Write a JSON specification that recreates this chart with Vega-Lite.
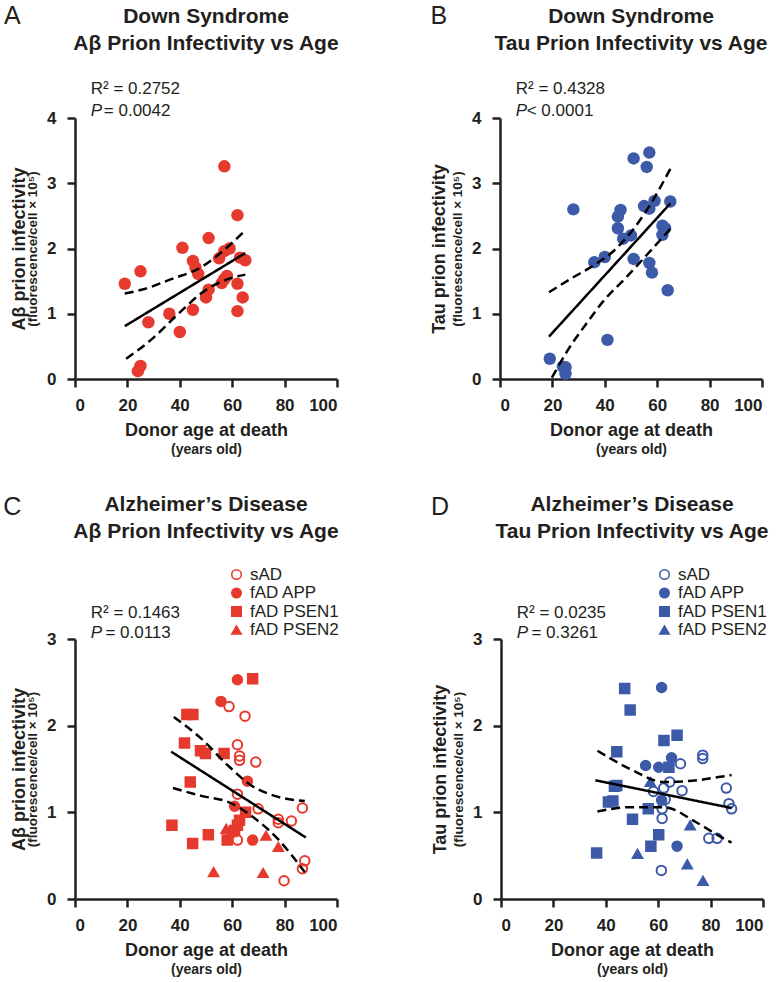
{
  "$schema": "https://vega.github.io/schema/vega-lite/v6.json",
  "padding": {"left": 3, "top": 3, "right": 0, "bottom": 3},
  "background": "white",
  "config": {
    "font": "Liberation Sans",
    "view": {"stroke": null},
    "axis": {
      "grid": false,
      "domainColor": "#231f20", "domainWidth": 2.5,
      "tickColor": "#231f20", "tickWidth": 2.5, "tickSize": 8,
      "labelFont": "Liberation Sans", "labelFontWeight": "bold", "labelFontSize": 17, "labelColor": "#231f20",
      "titleFont": "Liberation Sans", "titleColor": "#231f20", "titleFontWeight": "bold"
    },
    "title": {"font": "Liberation Sans", "fontSize": 21, "fontWeight": "bold", "color": "#231f20", "anchor": "middle", "frame": "group", "lineHeight": 27}
  },
  "datasets": {
    "a": [
      {"age":19,"val":1.46},{"age":25,"val":1.65},{"age":28,"val":0.87},{"age":24,"val":0.12},{"age":25,"val":0.2},
      {"age":36,"val":1.0},{"age":40,"val":0.72},{"age":41,"val":2.01},{"age":45,"val":1.06},{"age":45,"val":1.81},
      {"age":46,"val":1.71},{"age":47,"val":1.61},{"age":51,"val":2.16},{"age":50,"val":1.25},{"age":51,"val":1.37},
      {"age":55,"val":1.85},{"age":57,"val":3.26},{"age":57,"val":1.96},{"age":59,"val":2.0},{"age":56,"val":1.47},
      {"age":57,"val":1.53},{"age":58,"val":1.58},{"age":62,"val":2.51},{"age":63,"val":1.86},{"age":65,"val":1.82},
      {"age":62,"val":1.46},{"age":64,"val":1.25},{"age":62,"val":1.04}
    ],
    "b": [
      {"age":28,"val":2.6},{"age":51,"val":3.38},{"age":57,"val":3.47},{"age":56,"val":3.25},{"age":46,"val":2.59},
      {"age":45,"val":2.49},{"age":45,"val":2.31},{"age":47,"val":2.15},{"age":50,"val":2.2},{"age":36,"val":1.79},
      {"age":40,"val":1.87},{"age":51,"val":1.84},{"age":55,"val":2.65},{"age":57,"val":2.61},{"age":59,"val":2.73},
      {"age":65,"val":2.72},{"age":57,"val":1.78},{"age":58,"val":1.63},{"age":62,"val":2.35},{"age":63,"val":2.31},
      {"age":62,"val":2.21},{"age":64,"val":1.36},{"age":19,"val":0.31},{"age":24,"val":0.19},{"age":25,"val":0.18},
      {"age":25,"val":0.08},{"age":41,"val":0.6}
    ],
    "c": [
      {"age":62.0,"val":2.53,"group":"fAD APP"},{"age":55.7,"val":2.28,"group":"fAD APP"},{"age":65.8,"val":1.36,"group":"fAD APP"},
      {"age":60.9,"val":1.07,"group":"fAD APP"},{"age":67.8,"val":0.68,"group":"fAD APP"},
      {"age":67.8,"val":2.54,"group":"fAD PSEN1"},{"age":42.7,"val":2.13,"group":"fAD PSEN1"},{"age":45,"val":2.13,"group":"fAD PSEN1"},
      {"age":41.8,"val":1.8,"group":"fAD PSEN1"},{"age":47.9,"val":1.71,"group":"fAD PSEN1"},{"age":49.8,"val":1.68,"group":"fAD PSEN1"},
      {"age":56.9,"val":1.68,"group":"fAD PSEN1"},{"age":44,"val":1.35,"group":"fAD PSEN1"},{"age":37,"val":0.85,"group":"fAD PSEN1"},
      {"age":44.9,"val":0.64,"group":"fAD PSEN1"},{"age":50.9,"val":0.74,"group":"fAD PSEN1"},{"age":65.1,"val":1.0,"group":"fAD PSEN1"},
      {"age":62.8,"val":0.91,"group":"fAD PSEN1"},{"age":62,"val":0.85,"group":"fAD PSEN1"},{"age":58.1,"val":0.68,"group":"fAD PSEN1"},
      {"age":60.9,"val":0.79,"group":"fAD PSEN1"},
      {"age":52.9,"val":0.31,"group":"fAD PSEN2"},{"age":71.8,"val":0.3,"group":"fAD PSEN2"},{"age":72.9,"val":0.73,"group":"fAD PSEN2"},
      {"age":77.6,"val":0.6,"group":"fAD PSEN2"},{"age":57.7,"val":0.81,"group":"fAD PSEN2"},{"age":59.7,"val":0.77,"group":"fAD PSEN2"},
      {"age":58.8,"val":2.22,"group":"sAD"},{"age":64.9,"val":2.11,"group":"sAD"},{"age":62,"val":1.78,"group":"sAD"},
      {"age":62.8,"val":1.65,"group":"sAD"},{"age":62.8,"val":1.6,"group":"sAD"},{"age":69,"val":1.58,"group":"sAD"},
      {"age":62,"val":1.21,"group":"sAD"},{"age":69.9,"val":1.04,"group":"sAD"},{"age":86.8,"val":1.05,"group":"sAD"},
      {"age":77.6,"val":0.92,"group":"sAD"},{"age":77.6,"val":0.88,"group":"sAD"},{"age":82.6,"val":0.9,"group":"sAD"},
      {"age":62,"val":0.68,"group":"sAD"},{"age":87.7,"val":0.44,"group":"sAD"},{"age":86.8,"val":0.35,"group":"sAD"},
      {"age":79.8,"val":0.21,"group":"sAD"}
    ],
    "d": [
      {"age":47.2,"val":2.43,"group":"fAD PSEN1"},{"age":49.3,"val":2.18,"group":"fAD PSEN1"},{"age":67.2,"val":1.89,"group":"fAD PSEN1"},
      {"age":62.2,"val":1.83,"group":"fAD PSEN1"},{"age":44.2,"val":1.7,"group":"fAD PSEN1"},{"age":64.1,"val":1.52,"group":"fAD PSEN1"},
      {"age":43.3,"val":1.3,"group":"fAD PSEN1"},{"age":44.2,"val":1.31,"group":"fAD PSEN1"},{"age":41,"val":1.12,"group":"fAD PSEN1"},
      {"age":42.7,"val":1.13,"group":"fAD PSEN1"},{"age":56.2,"val":1.04,"group":"fAD PSEN1"},{"age":50.2,"val":0.92,"group":"fAD PSEN1"},
      {"age":60.2,"val":0.74,"group":"fAD PSEN1"},{"age":57.2,"val":0.61,"group":"fAD PSEN1"},{"age":36.5,"val":0.53,"group":"fAD PSEN1"},
      {"age":61.3,"val":2.44,"group":"fAD APP"},{"age":65.1,"val":1.63,"group":"fAD APP"},{"age":55.2,"val":1.54,"group":"fAD APP"},
      {"age":60.2,"val":1.52,"group":"fAD APP"},{"age":61.3,"val":1.14,"group":"fAD APP"},{"age":67.2,"val":0.61,"group":"fAD APP"},
      {"age":57,"val":1.35,"group":"fAD PSEN2"},{"age":72.2,"val":0.85,"group":"fAD PSEN2"},{"age":52.1,"val":0.52,"group":"fAD PSEN2"},
      {"age":71.1,"val":0.4,"group":"fAD PSEN2"},{"age":77.1,"val":0.21,"group":"fAD PSEN2"},
      {"age":77,"val":1.66,"group":"sAD"},{"age":77,"val":1.62,"group":"sAD"},{"age":68.5,"val":1.56,"group":"sAD"},
      {"age":64.4,"val":1.35,"group":"sAD"},{"age":62.1,"val":1.28,"group":"sAD"},{"age":69.1,"val":1.25,"group":"sAD"},
      {"age":58.2,"val":1.24,"group":"sAD"},{"age":62.7,"val":1.15,"group":"sAD"},{"age":61.5,"val":1.04,"group":"sAD"},
      {"age":61.5,"val":0.93,"group":"sAD"},{"age":79.3,"val":0.7,"group":"sAD"},{"age":82.5,"val":0.7,"group":"sAD"},
      {"age":61.2,"val":0.33,"group":"sAD"},{"age":86,"val":1.28,"group":"sAD"},{"age":87,"val":1.1,"group":"sAD"},
      {"age":88,"val":1.04,"group":"sAD"}
    ],
    "fits": [
      {"panel":"A","curve":"fit","age":19,"val":0.81},{"panel":"A","curve":"fit","age":65,"val":1.93},
      {"panel":"A","curve":"upper","age":19,"val":1.31},{"panel":"A","curve":"upper","age":26.5,"val":1.38},{"panel":"A","curve":"upper","age":36.7,"val":1.53},
      {"panel":"A","curve":"upper","age":48,"val":1.71},{"panel":"A","curve":"upper","age":55.8,"val":1.94},{"panel":"A","curve":"upper","age":65,"val":2.28},
      {"panel":"A","curve":"lower","age":19.5,"val":0.31},{"panel":"A","curve":"lower","age":29,"val":0.6},{"panel":"A","curve":"lower","age":39.2,"val":0.99},
      {"panel":"A","curve":"lower","age":49.4,"val":1.35},{"panel":"A","curve":"lower","age":58.3,"val":1.53},{"panel":"A","curve":"lower","age":65,"val":1.6},
      {"panel":"B","curve":"fit","age":18.7,"val":0.65},{"panel":"B","curve":"fit","age":65,"val":2.69},
      {"panel":"B","curve":"upper","age":18.7,"val":1.33},{"panel":"B","curve":"upper","age":27.6,"val":1.55},{"panel":"B","curve":"upper","age":35.3,"val":1.73},
      {"panel":"B","curve":"upper","age":43,"val":1.95},{"panel":"B","curve":"upper","age":50,"val":2.25},{"panel":"B","curve":"upper","age":57,"val":2.65},
      {"panel":"B","curve":"upper","age":65,"val":3.22},
      {"panel":"B","curve":"lower","age":19.8,"val":0.02},{"panel":"B","curve":"lower","age":26,"val":0.45},{"panel":"B","curve":"lower","age":32.8,"val":0.84},
      {"panel":"B","curve":"lower","age":40,"val":1.22},{"panel":"B","curve":"lower","age":48,"val":1.55},{"panel":"B","curve":"lower","age":56,"val":1.9},
      {"panel":"B","curve":"lower","age":65,"val":2.3},
      {"panel":"C","curve":"fit","age":36.7,"val":1.7},{"panel":"C","curve":"fit","age":88.1,"val":0.71},
      {"panel":"C","curve":"upper","age":37.7,"val":2.1},{"panel":"C","curve":"upper","age":48.2,"val":1.85},{"panel":"C","curve":"upper","age":58.4,"val":1.54},
      {"panel":"C","curve":"upper","age":67.3,"val":1.31},{"panel":"C","curve":"upper","age":76.2,"val":1.19},{"panel":"C","curve":"upper","age":87.7,"val":1.13},
      {"panel":"C","curve":"lower","age":37.4,"val":1.28},{"panel":"C","curve":"lower","age":48.2,"val":1.19},{"panel":"C","curve":"lower","age":58.4,"val":1.12},
      {"panel":"C","curve":"lower","age":67.3,"val":0.96},{"panel":"C","curve":"lower","age":77.5,"val":0.69},{"panel":"C","curve":"lower","age":87.7,"val":0.31},
      {"panel":"D","curve":"fit","age":36,"val":1.37},{"panel":"D","curve":"fit","age":88,"val":1.05},
      {"panel":"D","curve":"upper","age":36.8,"val":1.71},{"panel":"D","curve":"upper","age":49.3,"val":1.5},{"panel":"D","curve":"upper","age":62.1,"val":1.35},
      {"panel":"D","curve":"upper","age":74.8,"val":1.37},{"panel":"D","curve":"upper","age":83.7,"val":1.41},{"panel":"D","curve":"upper","age":88,"val":1.43},
      {"panel":"D","curve":"lower","age":36.8,"val":1.01},{"panel":"D","curve":"lower","age":49.3,"val":1.06},{"panel":"D","curve":"lower","age":62.1,"val":1.06},
      {"panel":"D","curve":"lower","age":74.8,"val":0.88},{"panel":"D","curve":"lower","age":83.7,"val":0.72},{"panel":"D","curve":"lower","age":88,"val":0.65}
    ],
    "notes": [
      {"panel":"A","letter":"A","r2":"R² = 0.2752","p":"P","pv":"= 0.0042"},
      {"panel":"B","letter":"B","r2":"R² = 0.4328","p":"P","pv":"< 0.0001"},
      {"panel":"C","letter":"C","r2":"R² = 0.1463","p":"P","pv":"= 0.0113"},
      {"panel":"D","letter":"D","r2":"R² = 0.0235","p":"P","pv":"= 0.3261"}
    ]
  },
  "spacing": 38,
  "resolve": {"scale": {"fill": "independent", "shape": "independent"}, "legend": {"fill": "independent", "shape": "independent"}},
  "vconcat": [
    {
      "spacing": 90,
      "hconcat": [
        {
          "width": 262, "height": 261,
          "title": {"text": ["Down Syndrome", "Aβ Prion Infectivity vs Age"], "offset": -50},
          "resolve": {"axis": {"x": "independent", "y": "independent"}},
          "layer": [
            {
              "data": {"name": "a"},
              "mark": {"type": "point", "filled": true, "size": 155, "color": "#e63a2e", "opacity": 1},
              "encoding": {
                "x": {"field": "age", "type": "quantitative", "scale": {"domain": [0, 100], "nice": false},
                      "axis": {"values": [0, 20, 40, 60, 80, 100], "title": "Donor age at death", "titleFontSize": 18, "titlePadding": 8, "labelPadding": 10}},
                "y": {"field": "val", "type": "quantitative", "scale": {"domain": [0, 4], "nice": false},
                      "axis": {"values": [0, 1, 2, 3, 4], "title": "(fluorescence/cell × 10⁵)", "titleFontSize": 13.5, "titlePadding": 7, "labelPadding": 11}}
              }
            },
            {
              "data": {"name": "fits"},
              "transform": [{"filter": "datum.panel === 'A'"}],
              "mark": {"type": "line", "color": "#000000", "strokeWidth": 2.5, "interpolate": "monotone"},
              "encoding": {
                "x": {"field": "age", "type": "quantitative",
                      "axis": {"orient": "bottom", "offset": 57, "title": "(years old)", "titleFontSize": 14, "titlePadding": 6, "labels": false, "ticks": false, "domain": false, "minExtent": 0}},
                "y": {"field": "val", "type": "quantitative",
                      "axis": {"orient": "left", "offset": 40, "title": "Aβ prion infectivity", "titleFontSize": 18, "titlePadding": 7, "labels": false, "ticks": false, "domain": false, "minExtent": 0}},
                "strokeDash": {"field": "curve", "type": "nominal", "scale": {"domain": ["fit", "upper", "lower"], "range": [[1, 0], [9, 5], [9, 5]]}, "legend": null}
              }
            },
            {
              "data": {"name": "notes"}, "transform": [{"filter": "datum.panel === 'A'"}],
              "mark": {"type": "text", "align": "center", "baseline": "middle", "fontSize": 25, "color": "#231f20"},
              "encoding": {"x": {"datum": -23.9, "type": "quantitative", "axis": null}, "y": {"datum": 5.57, "type": "quantitative", "axis": null}, "text": {"field": "letter"}}
            },
            {
              "data": {"name": "notes"}, "transform": [{"filter": "datum.panel === 'A'"}],
              "mark": {"type": "text", "align": "left", "baseline": "middle", "fontSize": 17, "color": "#231f20"},
              "encoding": {"x": {"datum": 6, "type": "quantitative", "axis": null}, "y": {"datum": 4.44, "type": "quantitative", "axis": null}, "text": {"field": "r2"}}
            },
            {
              "data": {"name": "notes"}, "transform": [{"filter": "datum.panel === 'A'"}],
              "mark": {"type": "text", "align": "left", "baseline": "middle", "fontSize": 17, "fontStyle": "italic", "color": "#231f20"},
              "encoding": {"x": {"datum": 6, "type": "quantitative", "axis": null}, "y": {"datum": 4.1, "type": "quantitative", "axis": null}, "text": {"field": "p"}}
            },
            {
              "data": {"name": "notes"}, "transform": [{"filter": "datum.panel === 'A'"}],
              "mark": {"type": "text", "align": "left", "baseline": "middle", "fontSize": 17, "color": "#231f20"},
              "encoding": {"x": {"datum": 11.0, "type": "quantitative", "axis": null}, "y": {"datum": 4.1, "type": "quantitative", "axis": null}, "text": {"field": "pv"}}
            }
          ]
        },
        {
          "width": 262, "height": 261,
          "title": {"text": ["Down Syndrome", "Tau Prion Infectivity vs Age"], "offset": -50},
          "resolve": {"axis": {"x": "independent", "y": "independent"}},
          "layer": [
            {
              "data": {"name": "b"},
              "mark": {"type": "point", "filled": true, "size": 155, "color": "#3d5aa8", "opacity": 1},
              "encoding": {
                "x": {"field": "age", "type": "quantitative", "scale": {"domain": [0, 100], "nice": false},
                      "axis": {"values": [0, 20, 40, 60, 80, 100], "title": "Donor age at death", "titleFontSize": 18, "titlePadding": 8, "labelPadding": 10}},
                "y": {"field": "val", "type": "quantitative", "scale": {"domain": [0, 4], "nice": false},
                      "axis": {"values": [0, 1, 2, 3, 4], "title": "(fluorescence/cell × 10⁵)", "titleFontSize": 13.5, "titlePadding": 7, "labelPadding": 11}}
              }
            },
            {
              "data": {"name": "fits"},
              "transform": [{"filter": "datum.panel === 'B'"}],
              "mark": {"type": "line", "color": "#000000", "strokeWidth": 2.5, "interpolate": "monotone"},
              "encoding": {
                "x": {"field": "age", "type": "quantitative",
                      "axis": {"orient": "bottom", "offset": 57, "title": "(years old)", "titleFontSize": 14, "titlePadding": 6, "labels": false, "ticks": false, "domain": false, "minExtent": 0}},
                "y": {"field": "val", "type": "quantitative",
                      "axis": {"orient": "left", "offset": 45, "title": "Tau prion infectivity", "titleFontSize": 18, "titlePadding": 7, "labels": false, "ticks": false, "domain": false, "minExtent": 0}},
                "strokeDash": {"field": "curve", "type": "nominal", "scale": {"domain": ["fit", "upper", "lower"], "range": [[1, 0], [9, 5], [9, 5]]}, "legend": null}
              }
            },
            {
              "data": {"name": "notes"}, "transform": [{"filter": "datum.panel === 'B'"}],
              "mark": {"type": "text", "align": "center", "baseline": "middle", "fontSize": 25, "color": "#231f20"},
              "encoding": {"x": {"datum": -23.3, "type": "quantitative", "axis": null}, "y": {"datum": 5.57, "type": "quantitative", "axis": null}, "text": {"field": "letter"}}
            },
            {
              "data": {"name": "notes"}, "transform": [{"filter": "datum.panel === 'B'"}],
              "mark": {"type": "text", "align": "left", "baseline": "middle", "fontSize": 17, "color": "#231f20"},
              "encoding": {"x": {"datum": 6, "type": "quantitative", "axis": null}, "y": {"datum": 4.44, "type": "quantitative", "axis": null}, "text": {"field": "r2"}}
            },
            {
              "data": {"name": "notes"}, "transform": [{"filter": "datum.panel === 'B'"}],
              "mark": {"type": "text", "align": "left", "baseline": "middle", "fontSize": 17, "fontStyle": "italic", "color": "#231f20"},
              "encoding": {"x": {"datum": 6, "type": "quantitative", "axis": null}, "y": {"datum": 4.1, "type": "quantitative", "axis": null}, "text": {"field": "p"}}
            },
            {
              "data": {"name": "notes"}, "transform": [{"filter": "datum.panel === 'B'"}],
              "mark": {"type": "text", "align": "left", "baseline": "middle", "fontSize": 17, "color": "#231f20"},
              "encoding": {"x": {"datum": 10.2, "type": "quantitative", "axis": null}, "y": {"datum": 4.1, "type": "quantitative", "axis": null}, "text": {"field": "pv"}}
            }
          ]
        }
      ]
    },
    {
      "spacing": 90,
      "resolve": {"scale": {"fill": "independent", "shape": "independent"}, "legend": {"fill": "independent", "shape": "independent"}},
      "hconcat": [
        {
          "width": 262, "height": 260,
          "title": {"text": ["Alzheimer’s Disease", "Aβ Prion Infectivity vs Age"], "offset": -47},
          "resolve": {"axis": {"x": "independent", "y": "independent"}},
          "layer": [
            {
              "data": {"name": "c"},
              "mark": {"type": "point", "filled": false, "size": 90, "stroke": "#e63a2e", "strokeWidth": 2, "opacity": 1, "fillOpacity": 1},
              "encoding": {
                "x": {"field": "age", "type": "quantitative", "scale": {"domain": [0, 100], "nice": false},
                      "axis": {"values": [0, 20, 40, 60, 80, 100], "title": "Donor age at death", "titleFontSize": 18, "titlePadding": 8, "labelPadding": 10}},
                "y": {"field": "val", "type": "quantitative", "scale": {"domain": [0, 3], "nice": false},
                      "axis": {"values": [0, 1, 2, 3], "title": "(fluorescence/cell × 10⁵)", "titleFontSize": 13.5, "titlePadding": 7, "labelPadding": 11}},
                "shape": {"field": "group", "type": "nominal",
                          "scale": {"domain": ["sAD", "fAD APP", "fAD PSEN1", "fAD PSEN2"], "range": ["circle", "circle", "square", "triangle-up"]},
                          "legend": {"orient": "none", "legendX": 153, "legendY": -73, "title": null, "labelFontSize": 17, "labelColor": "#231f20", "labelFont": "Liberation Sans", "symbolSize": 90, "padding": 0, "rowPadding": 0.5, "labelOffset": 5,
                                     "encode": {"symbols": {"update": {"stroke": {"value": "#e63a2e"}, "strokeWidth": {"value": 2}}}}}},
                "fill": {"field": "group", "type": "nominal",
                         "scale": {"domain": ["sAD", "fAD APP", "fAD PSEN1", "fAD PSEN2"], "range": ["transparent", "#e63a2e", "#e63a2e", "#e63a2e"]},
                         "legend": {"orient": "none", "legendX": 153, "legendY": -73, "title": null, "labelFontSize": 17, "labelColor": "#231f20", "labelFont": "Liberation Sans", "symbolSize": 90, "padding": 0, "rowPadding": 0.5, "labelOffset": 5,
                                    "encode": {"symbols": {"update": {"stroke": {"value": "#e63a2e"}, "strokeWidth": {"value": 2}}}}}}
              }
            },
            {
              "data": {"name": "fits"},
              "transform": [{"filter": "datum.panel === 'C'"}],
              "mark": {"type": "line", "color": "#000000", "strokeWidth": 2.5, "interpolate": "monotone"},
              "encoding": {
                "x": {"field": "age", "type": "quantitative",
                      "axis": {"orient": "bottom", "offset": 57, "title": "(years old)", "titleFontSize": 14, "titlePadding": 6, "labels": false, "ticks": false, "domain": false, "minExtent": 0}},
                "y": {"field": "val", "type": "quantitative",
                      "axis": {"orient": "left", "offset": 40, "title": "Aβ prion infectivity", "titleFontSize": 18, "titlePadding": 7, "labels": false, "ticks": false, "domain": false, "minExtent": 0}},
                "strokeDash": {"field": "curve", "type": "nominal", "scale": {"domain": ["fit", "upper", "lower"], "range": [[1, 0], [9, 5], [9, 5]]}, "legend": null}
              }
            },
            {
              "data": {"name": "notes"}, "transform": [{"filter": "datum.panel === 'C'"}],
              "mark": {"type": "text", "align": "center", "baseline": "middle", "fontSize": 25, "color": "#231f20"},
              "encoding": {"x": {"datum": -23.9, "type": "quantitative", "axis": null}, "y": {"datum": 4.52, "type": "quantitative", "axis": null}, "text": {"field": "letter"}}
            },
            {
              "data": {"name": "notes"}, "transform": [{"filter": "datum.panel === 'C'"}],
              "mark": {"type": "text", "align": "left", "baseline": "middle", "fontSize": 17, "color": "#231f20"},
              "encoding": {"x": {"datum": 6, "type": "quantitative", "axis": null}, "y": {"datum": 3.3, "type": "quantitative", "axis": null}, "text": {"field": "r2"}}
            },
            {
              "data": {"name": "notes"}, "transform": [{"filter": "datum.panel === 'C'"}],
              "mark": {"type": "text", "align": "left", "baseline": "middle", "fontSize": 17, "fontStyle": "italic", "color": "#231f20"},
              "encoding": {"x": {"datum": 6, "type": "quantitative", "axis": null}, "y": {"datum": 3.07, "type": "quantitative", "axis": null}, "text": {"field": "p"}}
            },
            {
              "data": {"name": "notes"}, "transform": [{"filter": "datum.panel === 'C'"}],
              "mark": {"type": "text", "align": "left", "baseline": "middle", "fontSize": 17, "color": "#231f20"},
              "encoding": {"x": {"datum": 11.6, "type": "quantitative", "axis": null}, "y": {"datum": 3.07, "type": "quantitative", "axis": null}, "text": {"field": "pv"}}
            }
          ]
        },
        {
          "width": 262, "height": 260,
          "title": {"text": ["Alzheimer’s Disease", "Tau Prion Infectivity vs Age"], "offset": -47},
          "resolve": {"axis": {"x": "independent", "y": "independent"}},
          "layer": [
            {
              "data": {"name": "d"},
              "mark": {"type": "point", "filled": false, "size": 90, "stroke": "#3d5aa8", "strokeWidth": 2, "opacity": 1, "fillOpacity": 1},
              "encoding": {
                "x": {"field": "age", "type": "quantitative", "scale": {"domain": [0, 100], "nice": false},
                      "axis": {"values": [0, 20, 40, 60, 80, 100], "title": "Donor age at death", "titleFontSize": 18, "titlePadding": 8, "labelPadding": 10}},
                "y": {"field": "val", "type": "quantitative", "scale": {"domain": [0, 3], "nice": false},
                      "axis": {"values": [0, 1, 2, 3], "title": "(fluorescence/cell × 10⁵)", "titleFontSize": 13.5, "titlePadding": 7, "labelPadding": 11}},
                "shape": {"field": "group", "type": "nominal",
                          "scale": {"domain": ["sAD", "fAD APP", "fAD PSEN1", "fAD PSEN2"], "range": ["circle", "circle", "square", "triangle-up"]},
                          "legend": {"orient": "none", "legendX": 155, "legendY": -73, "title": null, "labelFontSize": 17, "labelColor": "#231f20", "labelFont": "Liberation Sans", "symbolSize": 90, "padding": 0, "rowPadding": 0.5, "labelOffset": 5,
                                     "encode": {"symbols": {"update": {"stroke": {"value": "#3d5aa8"}, "strokeWidth": {"value": 2}}}}}},
                "fill": {"field": "group", "type": "nominal",
                         "scale": {"domain": ["sAD", "fAD APP", "fAD PSEN1", "fAD PSEN2"], "range": ["transparent", "#3d5aa8", "#3d5aa8", "#3d5aa8"]},
                         "legend": {"orient": "none", "legendX": 155, "legendY": -73, "title": null, "labelFontSize": 17, "labelColor": "#231f20", "labelFont": "Liberation Sans", "symbolSize": 90, "padding": 0, "rowPadding": 0.5, "labelOffset": 5,
                                    "encode": {"symbols": {"update": {"stroke": {"value": "#3d5aa8"}, "strokeWidth": {"value": 2}}}}}}
              }
            },
            {
              "data": {"name": "fits"},
              "transform": [{"filter": "datum.panel === 'D'"}],
              "mark": {"type": "line", "color": "#000000", "strokeWidth": 2.5, "interpolate": "monotone"},
              "encoding": {
                "x": {"field": "age", "type": "quantitative",
                      "axis": {"orient": "bottom", "offset": 57, "title": "(years old)", "titleFontSize": 14, "titlePadding": 6, "labels": false, "ticks": false, "domain": false, "minExtent": 0}},
                "y": {"field": "val", "type": "quantitative",
                      "axis": {"orient": "left", "offset": 45, "title": "Tau prion infectivity", "titleFontSize": 18, "titlePadding": 7, "labels": false, "ticks": false, "domain": false, "minExtent": 0}},
                "strokeDash": {"field": "curve", "type": "nominal", "scale": {"domain": ["fit", "upper", "lower"], "range": [[1, 0], [9, 5], [9, 5]]}, "legend": null}
              }
            },
            {
              "data": {"name": "notes"}, "transform": [{"filter": "datum.panel === 'D'"}],
              "mark": {"type": "text", "align": "center", "baseline": "middle", "fontSize": 25, "color": "#231f20"},
              "encoding": {"x": {"datum": -23.3, "type": "quantitative", "axis": null}, "y": {"datum": 4.52, "type": "quantitative", "axis": null}, "text": {"field": "letter"}}
            },
            {
              "data": {"name": "notes"}, "transform": [{"filter": "datum.panel === 'D'"}],
              "mark": {"type": "text", "align": "left", "baseline": "middle", "fontSize": 17, "color": "#231f20"},
              "encoding": {"x": {"datum": 6, "type": "quantitative", "axis": null}, "y": {"datum": 3.3, "type": "quantitative", "axis": null}, "text": {"field": "r2"}}
            },
            {
              "data": {"name": "notes"}, "transform": [{"filter": "datum.panel === 'D'"}],
              "mark": {"type": "text", "align": "left", "baseline": "middle", "fontSize": 17, "fontStyle": "italic", "color": "#231f20"},
              "encoding": {"x": {"datum": 6, "type": "quantitative", "axis": null}, "y": {"datum": 3.07, "type": "quantitative", "axis": null}, "text": {"field": "p"}}
            },
            {
              "data": {"name": "notes"}, "transform": [{"filter": "datum.panel === 'D'"}],
              "mark": {"type": "text", "align": "left", "baseline": "middle", "fontSize": 17, "color": "#231f20"},
              "encoding": {"x": {"datum": 11.6, "type": "quantitative", "axis": null}, "y": {"datum": 3.07, "type": "quantitative", "axis": null}, "text": {"field": "pv"}}
            }
          ]
        }
      ]
    }
  ]
}
